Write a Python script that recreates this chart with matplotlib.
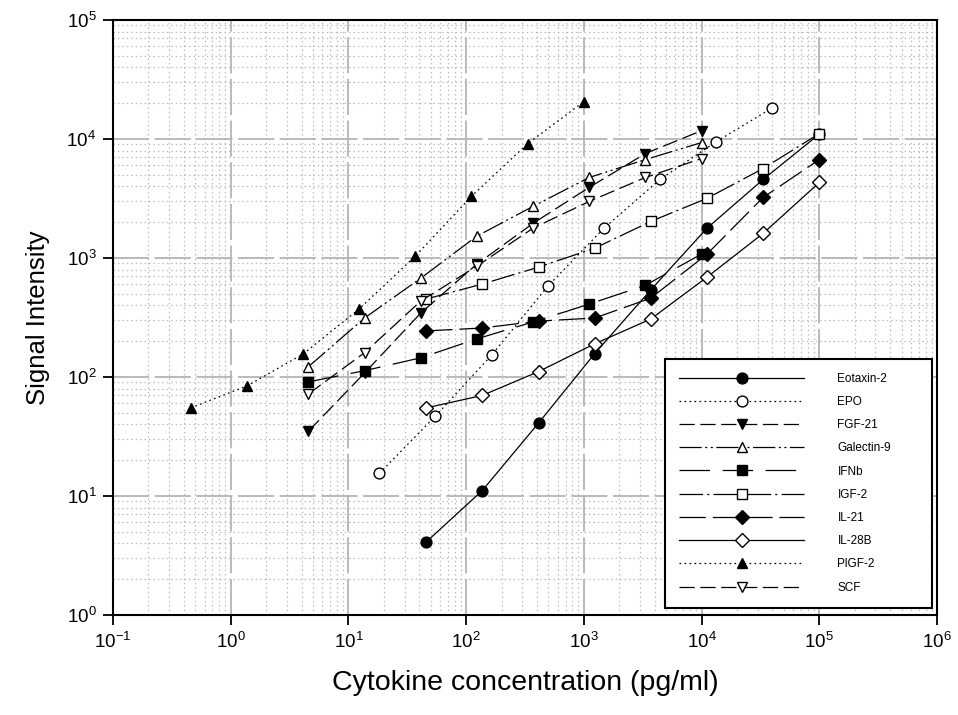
import numpy as np
import matplotlib.pyplot as plt
from matplotlib.ticker import FixedLocator, NullFormatter

plt.rcParams['font.family'] = ['Liberation Sans', 'DejaVu Sans']
plt.rcParams['lines.scale_dashes'] = False

# concentrations (pg/ml), 3-fold dilution series
conc_a = [45.7, 137, 412, 1235, 3704, 11111, 33333, 100000]
conc_b = [4.57, 13.7, 41.2, 123, 370, 1111, 3333, 10000]
conc_epo = [18.3, 54.9, 165, 494, 1481, 4444, 13333, 40000]
conc_plgf = [0.457, 1.37, 4.12, 12.3, 37.0, 111, 333, 1000]

# signal intensities
eotaxin2 = [4.1, 11.1, 41, 157, 540, 1780, 4570, 11000]
epo = [15.5, 47, 153, 580, 1780, 4580, 9500, 18300]
fgf21 = [35, 108, 345, 887, 1955, 3920, 7550, 11750]
galectin9 = [122, 313, 677, 1524, 2716, 4750, 6720, 9330]
ifnb = [91, 113, 145, 209, 290, 410, 590, 1080]
igf2 = [452, 604, 838, 1208, 2030, 3170, 5650, 11100]
il21 = [244, 258, 295, 313, 460, 1077, 3230, 6710]
il28b = [55, 70, 111, 190, 307, 690, 1610, 4310]
plgf2 = [55, 84, 156, 372, 1035, 3300, 9140, 20600]
scf = [72, 160, 435, 853, 1780, 2990, 4750, 6850]

labels = ['Eotaxin-2', 'EPO', 'FGF-21', 'Galectin-9', 'IFNb', 'IGF-2',
          'IL-21', 'IL-28B', 'PlGF-2', 'SCF']

xticks = [0.1, 1, 10, 100, 1e3, 1e4, 1e5, 1e6]
yticks = [1, 10, 100, 1e3, 1e4, 1e5]

fig = plt.figure(figsize=(9.58, 7.15), dpi=100)
ax = fig.add_axes([113/958, 1-615/715, (937-113)/958, (615-20)/715])

dot = (0, (1.2, 2.4))
series = [
    (conc_a, eotaxin2, '-', 'o', 'k'),
    (conc_epo, epo, dot, 'o', 'w'),
    (conc_b, fgf21, (0, (11, 4)), 'v', 'k'),
    (conc_b, galectin9, (0, (16, 2.5, 1.5, 2.5, 1.5, 2.5)), '^', 'w'),
    (conc_b, ifnb, (0, (22, 9)), 's', 'k'),
    (conc_a, igf2, (0, (17, 3, 1.5, 3)), 's', 'w'),
    (conc_a, il21, (0, (19, 5)), 'D', 'k'),
    (conc_a, il28b, '-', 'D', 'w'),
    (conc_plgf, plgf2, dot, '^', 'k'),
    (conc_b, scf, (0, (11, 4)), 'v', 'w'),
]

for (x, y, ls, mk, fc), lab in zip(series, labels):
    ms = 6.8 if mk == 'D' else 7.8
    ax.plot(x, y, linestyle=ls, color='k', lw=0.9, marker=mk, ms=ms,
            mfc=fc, mec='k', mew=1.0, label=lab)

ax.set_xscale('log')
ax.set_yscale('log')
ax.set_xlim(0.1, 1e6)
ax.set_ylim(1, 1e5)

ax.set_xticks(xticks)
ax.set_yticks(yticks)
ax.set_xticklabels(['$\\mathdefault{10^{%d}}$' % k for k in range(-1, 7)])
ax.set_yticklabels(['$\\mathdefault{10^{%d}}$' % k for k in range(0, 6)])
xminor = [m * 10.0 ** k for k in range(-1, 6) for m in range(2, 10)]
yminor = [m * 10.0 ** k for k in range(0, 5) for m in range(2, 10)]
ax.xaxis.set_minor_locator(FixedLocator(xminor))
ax.yaxis.set_minor_locator(FixedLocator(yminor))
ax.xaxis.set_minor_formatter(NullFormatter())
ax.yaxis.set_minor_formatter(NullFormatter())

ax.grid(which='major', color='#b4b4b4', linestyle=(0, (26, 4)), lw=1.3)
ax.grid(which='minor', color='#b8b8b8', linestyle=(0, (1, 2.2)), lw=0.9)
ax.set_axisbelow(True)

ax.tick_params(which='major', direction='out', length=7, width=1.3,
               labelsize=13.5, pad=5)
ax.tick_params(which='minor', length=0)
for sp in ax.spines.values():
    sp.set_linewidth(1.5)

ax.set_xlabel('Cytokine concentration (pg/ml)', fontsize=20.5, labelpad=13)
ax.set_ylabel('Signal Intensity', fontsize=18.5, labelpad=12)

leg = ax.legend(loc='lower left', bbox_to_anchor=(0.670, 0.012, 0.324, 0.425),
                mode='expand', fontsize=8.5, handlelength=10.6, handletextpad=2.8,
                labelspacing=0.95, borderpad=1.2, fancybox=False,
                framealpha=1, edgecolor='k', borderaxespad=0)
leg.get_frame().set_linewidth(1.5)

fig.savefig('out.png', dpi=100)
